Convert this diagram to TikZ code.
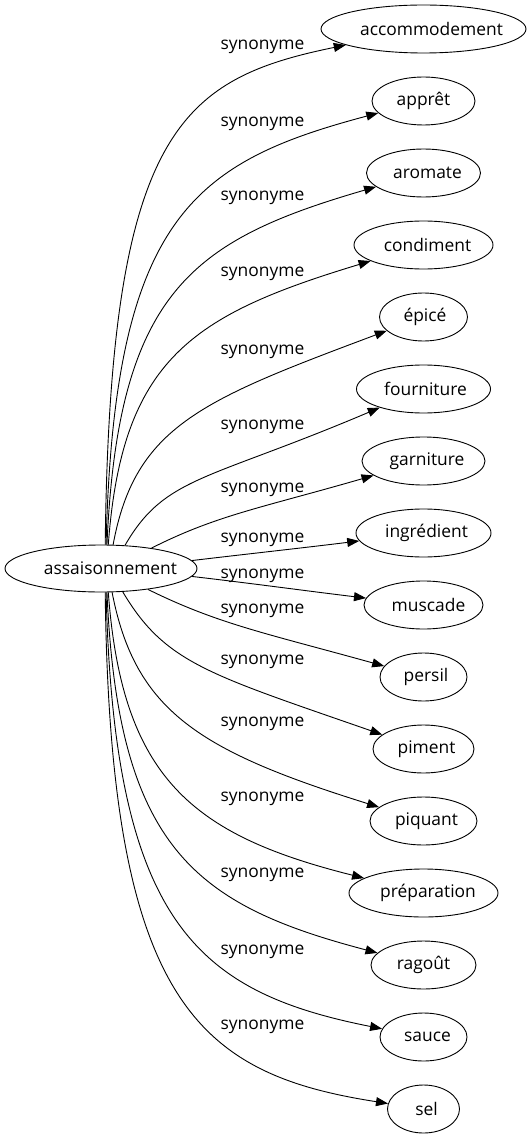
\documentclass[tikz,border=0pt]{standalone}
\usepackage{fontspec}
\setmainfont{Open Sans}
\usetikzlibrary{shapes.geometric,arrows.meta}
\tikzset{
  ell/.style={draw, ellipse, inner sep=0pt, minimum height=48pt, line width=0.9pt,
    font=\fontsize{17.4}{20}\selectfont},
  lab/.style={anchor=base, inner sep=0pt, font=\fontsize{17.4}{20}\selectfont},
  edge/.style={draw, line width=0.9pt, -{Triangle[length=12pt,width=9pt]}}
}
\newcommand{\tx}[2][0pt]{\makebox[0pt]{\hspace{#1}#2}}
\begin{document}
\begin{tikzpicture}[x=1pt,y=-1pt]
\path[use as bounding box] (0,0) rectangle (532,1139);
\node[ell, minimum width=192pt, minimum height=47pt] (src) at (101,568.5) {\tx[19pt]{assaisonnement}};
\node[ell, minimum width=205pt] (t1) at (423.5,29) {\tx[16pt]{accommodement}};
\node[ell, minimum width=103pt] (t2) at (423.5,101) {\tx{apprêt}};
\node[ell, minimum width=114pt] (t3) at (423.5,173) {\tx[8pt]{aromate}};
\node[ell, minimum width=139pt] (t4) at (423.5,245) {\tx[8pt]{condiment}};
\node[ell, minimum width=88pt] (t5) at (423.5,317) {\tx[3pt]{épicé}};
\node[ell, minimum width=134pt] (t6) at (423.5,389) {\tx[4pt]{fourniture}};
\node[ell, minimum width=123pt] (t7) at (423.5,461) {\tx[7pt]{garniture}};
\node[ell, minimum width=135pt] (t8) at (423.5,533) {\tx[6pt]{ingrédient}};
\node[ell, minimum width=119pt] (t9) at (423.5,605) {\tx[10pt]{muscade}};
\node[ell, minimum width=87pt] (t10) at (423.5,677) {\tx[5pt]{persil}};
\node[ell, minimum width=101pt] (t11) at (423.5,749) {\tx[6pt]{piment}};
\node[ell, minimum width=107pt] (t12) at (423.5,821) {\tx[6pt]{piquant}};
\node[ell, minimum width=149pt] (t13) at (423.5,893) {\tx[9pt]{préparation}};
\node[ell, minimum width=105pt] (t14) at (423.5,965) {\tx{ragoût}};
\node[ell, minimum width=87pt] (t15) at (423.5,1037) {\tx[8pt]{sauce}};
\node[ell, minimum width=72pt] (t16) at (423.5,1109) {\tx[6pt]{sel}};
\node[lab] (l1) at (262.5,49.5) {synonyme};
\node[lab] (l2) at (262.5,126.5) {synonyme};
\node[lab] (l3) at (262.5,200.5) {synonyme};
\node[lab] (l4) at (262.5,276.5) {synonyme};
\node[lab] (l5) at (262.5,354.5) {synonyme};
\node[lab] (l6) at (262.5,429.5) {synonyme};
\node[lab] (l7) at (262.5,492.5) {synonyme};
\node[lab] (l8) at (262.5,542.5) {synonyme};
\node[lab] (l9) at (262.5,578.5) {synonyme};
\node[lab] (l10) at (262.5,613.5) {synonyme};
\node[lab] (l11) at (262.5,664.5) {synonyme};
\node[lab] (l12) at (262.5,726.5) {synonyme};
\node[lab] (l13) at (262.5,801.5) {synonyme};
\node[lab] (l14) at (262.5,877.5) {synonyme};
\node[lab] (l15) at (262.5,954.5) {synonyme};
\node[lab] (l16) at (262.5,1029.5) {synonyme};
\draw[edge] (src.80) .. controls (110,130) and (181,79) .. (t1);
\draw[edge] (src.78) .. controls (114,217) and (194,162) .. (t2);
\draw[edge] (src.76) .. controls (118,291) and (193,240) .. (t3);
\draw[edge] (src.73) .. controls (122,359) and (192,315) .. (t4);
\draw[edge] (src.63) .. controls (135,426) and (202,400) .. (t5);
\draw[edge] (src.44) .. controls (165,476) and (207,481) .. (t6);
\draw[edge] (src.22) .. controls (217,515) and (261,508) .. (t7);
\draw[edge] (src.5) .. controls (247,554) and (302,548) .. (t8);
\draw[edge] (src.-5) .. controls (249,583) and (307,591) .. (t9);
\draw[edge] (src.-24) .. controls (218,624) and (265,633) .. (t10);
\draw[edge] (src.-47) .. controls (165,663) and (208,674) .. (t11);
\draw[edge] (src.-65) .. controls (135,711) and (199,751) .. (t12);
\draw[edge] (src.-73) .. controls (122,778) and (192,835) .. (t13);
\draw[edge] (src.-76) .. controls (118,848) and (195,905) .. (t14);
\draw[edge] (src.-78) .. controls (114,923) and (197,992) .. (t15);
\draw[edge] (src.-80) .. controls (110,1003) and (198,1074) .. (t16);
\end{tikzpicture}
\end{document}
